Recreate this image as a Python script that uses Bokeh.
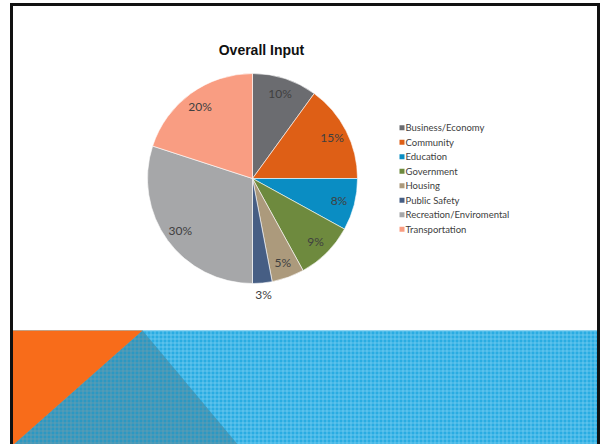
from bokeh.plotting import figure
from bokeh.models import Range1d, ColumnDataSource
from bokeh.core.properties import value
from bokeh.embed import file_html
from bokeh.resources import INLINE
import numpy as np

# ---- data ----
categories = ["Business/Economy", "Community", "Education", "Government",
              "Housing", "Public Safety", "Recreation/Enviromental", "Transportation"]
shares = [10, 15, 8, 9, 5, 3, 30, 20]
colors = ["#6B6C70", "#DE5F16", "#0A8DC3", "#6E8A3E",
          "#AC9A7C", "#465E84", "#A6A7A9", "#F99D82"]
title_text = "Overall Input"

W, H = 602, 444
OX, OY = 0, 0  # page offset


def sx(x):
    return x - OX


def sy(y):
    return (H + OY) - y


p = figure(width=W, height=H, output_backend="svg", toolbar_location=None,
           x_range=Range1d(0, W), y_range=Range1d(0, H), min_border=0,
           background_fill_color="white", border_fill_color="white")
p.axis.visible = False
p.grid.visible = False
p.outline_line_color = None

# ---- slide background ----
top_band = 330
p.quad(left=sx(12), right=sx(597), bottom=0, top=sy(top_band),
       fill_color="#29ACE2", line_color=None,
       hatch_pattern="+", hatch_color="#7DD0F2", hatch_alpha=0.7,
       hatch_scale=4, hatch_weight=1)
p.patch(x=[sx(142), sx(12), sx(238)], y=[sy(top_band), sy(445), sy(445)],
        fill_color="#2C98C2", line_color=None,
        hatch_pattern="+", hatch_color="#6F9CAE", hatch_alpha=0.7,
        hatch_scale=4, hatch_weight=1)
p.patch(x=[sx(12), sx(142), sx(12)], y=[sy(top_band), sy(top_band), sy(445)],
        fill_color="#F86C1A", line_color=None)

# border
p.line(x=[sx(11), sx(11)], y=[0, sy(3)], line_color="#111111", line_width=3)
p.line(x=[sx(598), sx(598)], y=[0, sy(3)], line_color="#111111", line_width=3)
p.line(x=[sx(9.5), sx(599.5)], y=[sy(4), sy(4)], line_color="#111111", line_width=3)

# ---- pie ----
cx, cy, r = sx(252), sy(178), 105
frac = np.array(shares, dtype=float) / sum(shares)
cum = np.concatenate([[0], np.cumsum(frac)])
start = np.pi / 2 - cum[:-1] * 2 * np.pi
end = np.pi / 2 - cum[1:] * 2 * np.pi
src = ColumnDataSource(dict(start=start, end=end, color=colors))
p.wedge(x=cx, y=cy, radius=r, radius_units="screen", start_angle="start", end_angle="end",
        direction="clock", fill_color="color", line_color="white", line_width=0.6,
        source=src)

mid = (start + end) / 2
dist = np.array([r * 0.85 if s >= 4 else r + 12 for s in shares])
lx = cx + dist * np.cos(mid)
ly = cy + dist * np.sin(mid)
p.text(x=lx, y=ly, text=[f"{s}%" for s in shares], text_align="center",
       text_baseline="middle", text_font=value("Lato"), text_font_size="12px",
       text_color="#404040")

p.text(x=[sx(261)], y=[sy(49)], text=[title_text], text_align="center",
       text_baseline="middle", text_font=value("Liberation Sans"),
       text_font_size="14px", text_font_style="bold", text_color="#111111")

# ---- legend ----
ly0, step = 127.3, 14.5
leg_y = [sy(ly0 + i * step) for i in range(len(categories))]
p.scatter(x=[sx(401.5)] * len(categories), y=leg_y, marker="square", size=5,
          fill_color=colors, line_color=None)
p.text(x=[sx(405)] * len(categories), y=leg_y, text=categories, text_align="left",
       text_baseline="middle", text_font=value("Lato"), text_font_size="9.5px",
       text_color="#404040")

open("out.html", "w").write(file_html(p, INLINE))
